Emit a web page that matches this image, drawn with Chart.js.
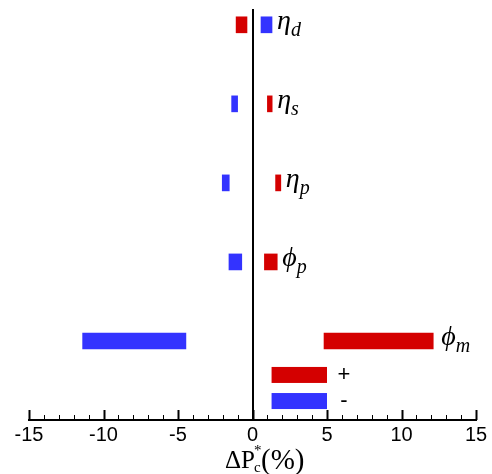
<!DOCTYPE html>
<html>
<head>
<meta charset="utf-8">
<script src="https://cdn.jsdelivr.net/npm/chart.js@4"></script>
<style>
  body { margin: 0; background: #fff; }
  #wrap { width: 492px; height: 474px; position: relative; }
</style>
</head>
<body>
<div id="wrap"><canvas id="chart"></canvas></div>
<script>
// rows from top to bottom
const rows = [0, 1, 2, 3, 4];
const labelBase = ["η", "η", "η", "ϕ", "ϕ"];
const labelSub = ["d", "s", "p", "p", "m"];

// "+" case (red) and "-" case (blue), start / end of each bar
const plusLow = [-1.1, 1.0, 1.55, 0.8, 4.8];
const plusHigh = [-0.37, 1.32, 1.9, 1.66, 12.13];
const minusLow = [0.57, -1.4, -2.03, -1.58, -11.4];
const minusHigh = [1.31, -1.0, -1.56, -0.72, -4.47];

const xTicks = [-15, -10, -5, 0, 5, 10, 15];
const legendNames = ["+", "-"];

const RED = "#d40000";
const BLUE = "#3333ff";

const toPoints = (lo, hi) => rows.map((r, i) => ({ x: [lo[i], hi[i]], y: r }));

// tick marks pointing up, major every 5 and minor every 1
const tickPlugin = {
  id: "ticks",
  afterDraw(chart) {
    const { ctx, scales: { x }, chartArea } = chart;
    const yb = chartArea.bottom;
    ctx.save();
    ctx.strokeStyle = "#000";
    for (let v = -15; v <= 15; v++) {
      const px = Math.round(x.getPixelForValue(v)) + 0.5;
      const major = v % 5 === 0;
      ctx.lineWidth = major ? 2 : 1;
      ctx.beginPath();
      ctx.moveTo(px, yb);
      ctx.lineTo(px, yb - (major ? 10 : 5));
      ctx.stroke();
    }
    ctx.restore();
  }
};

// labels next to the bars, legend, and axis title
const textPlugin = {
  id: "texts",
  afterDraw(chart) {
    const { ctx, scales: { x, y } } = chart;
    ctx.save();
    ctx.fillStyle = "#000";
    ctx.textBaseline = "alphabetic";
    rows.forEach((r, i) => {
      const end = Math.max(plusHigh[i], minusHigh[i]);
      const px = x.getPixelForValue(end) + (i === 4 ? 8 : 5);
      const py = y.getPixelForValue(r);
      ctx.font = 'italic 28px "Liberation Serif", "DejaVu Serif", serif';
      ctx.textAlign = "left";
      ctx.fillText(labelBase[i], px, py + 4);
      const w = ctx.measureText(labelBase[i]).width;
      ctx.font = 'italic 20px "Liberation Serif", "DejaVu Serif", serif';
      ctx.fillText(labelSub[i], px + w, py + 11);
    });

    // legend
    const legendRows = [4.43, 4.76];
    const legendColors = [RED, BLUE];
    legendRows.forEach((r, i) => {
      const py = y.getPixelForValue(r);
      const x1 = x.getPixelForValue(1.28);
      const x2 = x.getPixelForValue(5.0);
      ctx.fillStyle = legendColors[i];
      ctx.fillRect(x1, py - 8, x2 - x1, 16);
      ctx.fillStyle = "#000";
      ctx.font = '22px "Liberation Sans", Arial, sans-serif';
      ctx.textAlign = "center";
      ctx.textBaseline = "middle";
      ctx.fillText(legendNames[i], x2 + 17, py);
    });

    // axis title  ΔP*c(%)
    ctx.textAlign = "left";
    ctx.textBaseline = "alphabetic";
    let tx = 225;
    const ty = 468;
    ctx.font = '25px "Liberation Serif", "Times New Roman", serif';
    ctx.fillText("ΔP", tx, ty);
    tx += ctx.measureText("ΔP").width;
    ctx.font = '15px "Liberation Serif", "Times New Roman", serif';
    ctx.fillText("c", tx - 1, ty + 4);
    ctx.fillText("*", tx - 1, ty - 13);
    tx += 6;
    ctx.font = '29px "Liberation Serif", "Times New Roman", serif';
    ctx.fillText("(%)", tx, ty + 1);
    ctx.restore();
  }
};

new Chart(document.getElementById("chart"), {
  type: "bar",
  data: {
    datasets: [
      { label: "+", data: toPoints(plusLow, plusHigh), backgroundColor: RED, grouped: false, barThickness: 16 },
      { label: "-", data: toPoints(minusLow, minusHigh), backgroundColor: BLUE, grouped: false, barThickness: 16 }
    ]
  },
  options: {
    indexAxis: "y",
    responsive: true,
    maintainAspectRatio: false,
    animation: false,
    layout: { padding: { left: 29, right: 16, top: 9, bottom: 0 } },
    plugins: { legend: { display: false }, tooltip: { enabled: false } },
    scales: {
      y: {
        type: "linear",
        min: -0.2,
        max: 5.0,
        reverse: true,
        offset: false,
        display: false
      },
      x: {
        type: "linear",
        min: -15,
        max: 15,
        afterBuildTicks: (s) => { s.ticks = xTicks.map(v => ({ value: v })); },
        afterFit: (s) => { s.height = 54; },
        ticks: {
          color: "#000",
          padding: 3,
          font: { family: '"Liberation Sans", Arial, sans-serif', size: 20 }
        },
        grid: {
          drawTicks: false,
          color: (c) => (c.tick && c.tick.value === 0 ? "#000" : "rgba(0,0,0,0)"),
          lineWidth: 2
        },
        border: { display: true, color: "#000", width: 2 }
      }
    }
  },
  plugins: [tickPlugin, textPlugin]
});
</script>
</body>
</html>
